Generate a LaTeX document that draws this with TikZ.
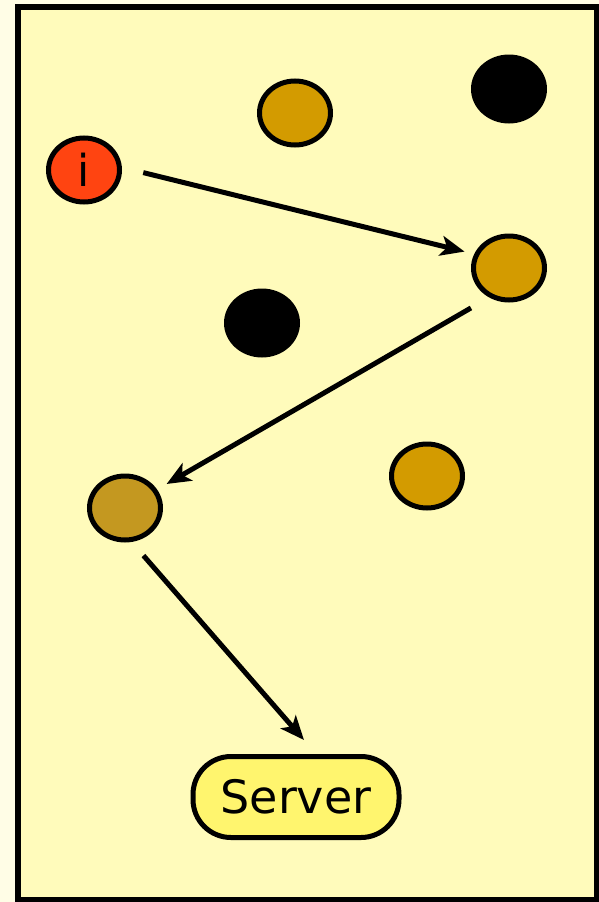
\documentclass[tikz,border=0pt]{standalone}
\usepackage{fontspec}
\setmainfont{DejaVu Sans}
\usetikzlibrary{arrows.meta,shapes.geometric}

\definecolor{paper}{RGB}{255,253,230}
\definecolor{panel}{RGB}{255,251,187}
\definecolor{start}{RGB}{255,68,17}
\definecolor{gold}{RGB}{211,155,0}
\definecolor{dgold}{RGB}{196,152,32}
\definecolor{srv}{RGB}{255,245,110}

\begin{document}
\begin{tikzpicture}[x=1pt,y=-1pt,
  peer/.style={ellipse,draw,line width=5pt,minimum width=71pt,minimum height=64pt,inner sep=0pt},
  off/.style={ellipse,fill=black,minimum width=76pt,minimum height=69pt,inner sep=0pt},
  hop/.style={-{Stealth[length=24pt,width=20pt,inset=6pt]},line width=5pt}]
  \fill[paper] (0,0) rectangle (599,902);
  \useasboundingbox (0,0) rectangle (599,902);
  \draw[line width=6pt,fill=panel] (18,7) rectangle (597,900);

  % peers that are down
  \node[off] (b1) at (509,89) {};
  \node[off] (b2) at (262,323) {};

  % peers that are up
  \node[peer,fill=start,font=\fontsize{44}{44}\selectfont] (i) at (84,170) {i};
  \node[peer,fill=gold] (g1) at (295,113) {};
  \node[peer,fill=gold] (g2) at (509,268) {};
  \node[peer,fill=gold] (g3) at (427,476) {};
  \node[peer,fill=dgold] (d) at (125,508) {};

  \node[draw,line width=5pt,fill=srv,rounded corners=38pt,minimum width=206pt,minimum height=81pt,
        font=\fontsize{46}{46}\selectfont] (server) at (296,797) {Server};
  \coordinate (srvin) at ([xshift=8pt,yshift=14pt]server.north);

  % the path of the request
  \draw[hop,shorten <=22pt,shorten >=10pt] (i.4) -- (g2.158);
  \draw[hop,shorten <=21pt,shorten >=11pt] (g2.236) -- (d.30);
  \draw[hop,shorten <=18pt] (d.-79) -- (srvin);
\end{tikzpicture}
\end{document}
